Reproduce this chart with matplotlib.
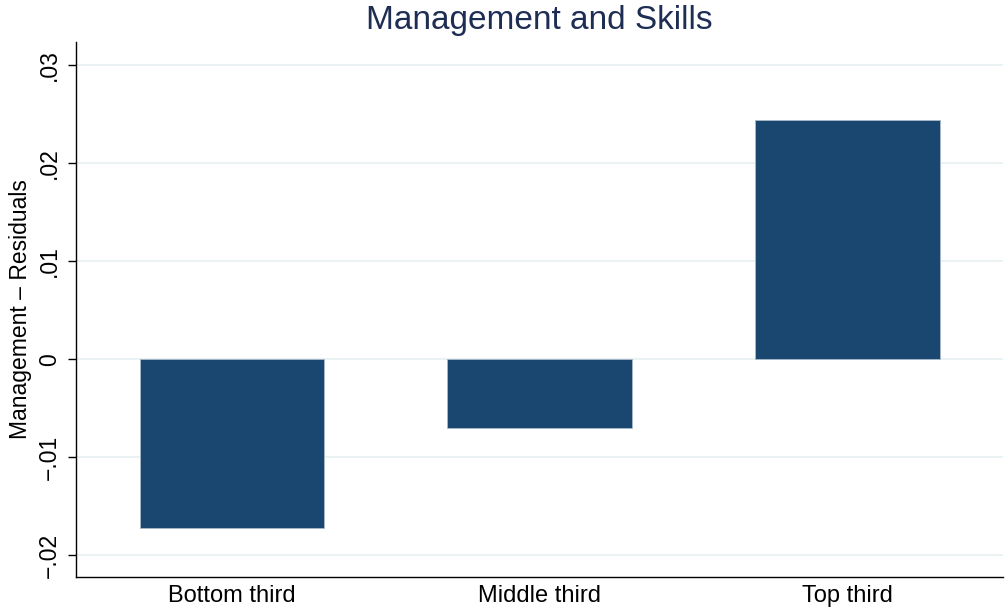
import matplotlib
matplotlib.use("Agg")
import matplotlib.pyplot as plt

categories = ["Bottom third", "Middle third", "Top third"]
values = [-0.01724, -0.00704, 0.02439]
yticks = [-0.02, -0.01, 0.0, 0.01, 0.02, 0.03]
ytick_labels = ["\u2212.02", "\u2212.01", "0", ".01", ".02", ".03"]

plt.rcParams['font.family'] = ['Liberation Sans', 'DejaVu Sans']

fig = plt.figure(figsize=(10.05, 6.11), dpi=100)
ax = fig.add_axes([76/1005, 34/611, (1003-76)/1005, (577-42)/611])

x = list(range(len(categories)))
ax.bar(x, values, width=0.6, color="#1a476f", edgecolor="#a9b9c8", linewidth=0.6, zorder=3)

ax.set_xlim(-0.507, 2.506)
ax.set_ylim(-0.02225, 0.0324)
ax.set_yticks(yticks)
ax.set_yticklabels(ytick_labels, rotation=90, va="center", fontsize=16.5)
ax.set_xticks(x)
ax.set_xticklabels(categories, fontsize=17)
ax.tick_params(axis="x", length=0, pad=6)
ax.tick_params(axis="y", length=6, width=1, pad=5)
ax.yaxis.grid(True, color="#eaf2f3", linewidth=1.5, zorder=0)
ax.set_axisbelow(True)

for s in ["top", "right"]:
    ax.spines[s].set_visible(False)
for s in ["left", "bottom"]:
    ax.spines[s].set_linewidth(1.0)
    ax.spines[s].set_color("black")

ax.set_ylabel("Management \u2013 Residuals", fontsize=16.5, labelpad=4)
ax.set_title("Management and Skills", fontsize=24, color="#1e2d53", pad=9)

fig.savefig("out.png", dpi=100)
